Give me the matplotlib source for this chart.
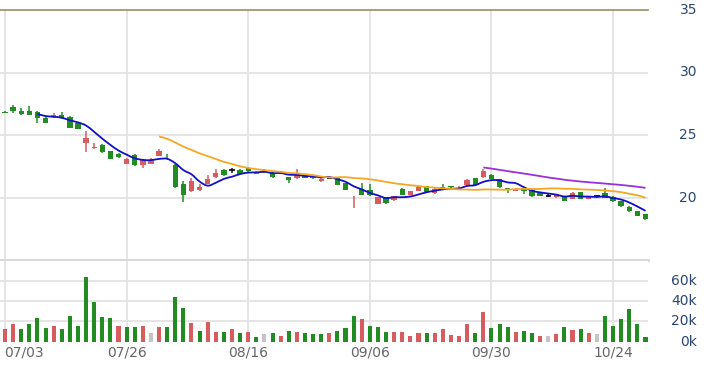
import numpy as np
import matplotlib
matplotlib.use("Agg")
import matplotlib.pyplot as plt
from matplotlib.path import Path
from matplotlib.patches import PathPatch
import matplotlib.transforms as mtransforms

# ---------------- data ----------------
opens = [26.88, 27.20, 26.95, 26.93, 26.85, 26.40, 26.50, 26.60, 26.45, 26.00,
         24.34, 24.00, 24.20, 23.73, 23.47, 22.70, 23.40, 22.60, 22.70, 23.33,
         23.20, 22.60, 21.10, 20.50, 20.58, 21.10, 21.64, 22.20, 22.17, 22.20,
         22.40, 21.90, 22.20, 22.00, 21.96, 21.60, 21.56, 21.83, 21.72, 21.30,
         21.60, 21.56, 21.17, 19.70, 20.70, 20.63, 19.52, 20.02, 19.79, 20.70,
         20.24, 20.56, 20.90, 20.37, 20.85, 20.90, 20.83, 20.98, 21.56, 21.64,
         21.83, 21.48, 20.77, 20.56, 20.70, 20.63, 20.37, 20.15, 20.05, 20.05,
         19.90, 20.42, 19.92, 20.10, 20.37, 20.05, 19.70, 19.26, 18.91, 18.65]
highs = [26.95, 27.38, 27.20, 27.30, 26.90, 26.45, 26.75, 26.85, 26.50, 26.05,
         25.30, 24.35, 24.25, 23.75, 23.60, 23.15, 23.45, 23.05, 23.20, 23.85,
         23.50, 22.65, 21.30, 21.55, 21.10, 21.80, 22.30, 22.25, 22.40, 22.30,
         22.45, 22.10, 22.25, 22.05, 22.15, 21.65, 22.25, 21.90, 21.78, 21.60,
         21.75, 21.60, 21.20, 20.10, 21.20, 21.10, 20.05, 20.05, 20.15, 20.75,
         20.55, 20.90, 20.95, 20.75, 21.05, 20.95, 20.95, 21.50, 21.60, 22.30,
         21.90, 21.50, 20.80, 20.75, 20.75, 20.65, 20.45, 20.25, 20.30, 20.10,
         20.45, 20.45, 20.15, 20.20, 20.80, 20.10, 19.75, 19.30, 18.95, 18.70]
lows = [26.80, 26.80, 26.60, 26.60, 26.00, 25.95, 26.40, 26.30, 25.55, 25.45,
        23.65, 23.85, 23.60, 23.05, 23.20, 22.65, 22.55, 22.40, 22.65, 23.30,
        23.05, 20.80, 19.63, 20.45, 20.50, 21.05, 21.60, 21.75, 22.00, 21.85,
        22.05, 21.85, 22.00, 21.60, 21.85, 21.20, 21.50, 21.55, 21.50, 21.25,
        21.50, 21.00, 20.60, 19.20, 20.20, 20.15, 19.50, 19.50, 19.75, 20.20,
        20.20, 20.50, 20.40, 20.30, 20.70, 20.75, 20.80, 20.95, 21.00, 21.60,
        21.45, 20.80, 20.35, 20.50, 20.30, 20.05, 20.10, 20.05, 20.00, 19.70,
        19.85, 19.85, 19.90, 19.95, 19.95, 19.65, 19.25, 18.85, 18.50, 18.20]
closes = [26.80, 26.90, 26.72, 26.64, 26.33, 26.00, 26.60, 26.35, 25.60, 25.50,
          24.74, 24.07, 23.63, 23.10, 23.25, 23.10, 22.60, 23.00, 23.00, 23.73,
          23.15, 20.85, 20.24, 21.30, 20.85, 21.50, 22.00, 21.80, 22.17, 21.90,
          22.10, 22.05, 22.05, 21.64, 21.96, 21.43, 21.96, 21.60, 21.55, 21.50,
          21.60, 21.03, 20.63, 19.75, 20.24, 20.20, 20.02, 19.55, 20.10, 20.24,
          20.50, 20.82, 20.45, 20.70, 20.78, 20.82, 20.88, 21.43, 21.03, 22.09,
          21.50, 20.82, 20.60, 20.70, 20.50, 20.10, 20.15, 20.15, 20.24, 19.76,
          20.37, 19.90, 20.10, 20.10, 19.98, 19.70, 19.30, 18.91, 18.52, 18.25]
prev_close_before_start = 26.70
volumes = [12.0, 16.9, 12.0, 16.9, 22.8, 13.0, 15.6, 12.0, 25.4, 15.6,
           63.8, 39.2, 23.8, 22.8, 15.6, 14.6, 14.6, 15.6, 8.1, 14.6,
           14.6, 44.1, 32.7, 17.9, 10.6, 19.5, 9.7, 9.7, 12.0, 8.7,
           9.7, 4.7, 7.1, 8.1, 5.4, 10.3, 9.7, 8.1, 7.1, 7.0,
           8.1, 10.6, 13.0, 25.1, 21.9, 15.6, 14.0, 9.7, 9.7, 9.7,
           5.4, 8.1, 8.1, 8.7, 12.0, 6.4, 5.4, 16.9, 8.1, 29.4,
           13.0, 16.9, 14.6, 9.7, 10.3, 8.1, 5.4, 5.4, 7.1, 14.0,
           11.3, 12.0, 8.1, 7.1, 25.4, 15.6, 21.9, 31.7, 16.9, 4.7]  # thousands
tick_labels = ["07/03", "07/26", "08/16", "09/06", "09/30", "10/24"]
tick_index = [0, 15, 30, 45, 60, 75]
ma_periods = [5, 20, 60]
price_ticks = [20, 25, 30, 35]
vol_ticks = [0, 20, 40, 60]

# ---------------- style ----------------
RED = "#d65c5f"
GREEN = "#228b22"
BLACK = "#111111"
GRAY_VOL = "#c4c4c4"
GRID = "#e3e3e3"
LABEL_BLUE = "#2a4670"
MA_COLORS = {5: "#1010c8", 20: "#f5a623", 60: "#9b30d9"}

o = np.array(opens); h = np.array(highs); l = np.array(lows); c = np.array(closes)
v = np.array(volumes) * 1000.0
n = len(c)
x = np.arange(n)

W, H = 705, 367
fig = plt.figure(figsize=(W / 100, H / 100), dpi=100)
px_left, px_right = 0, 648
axp = fig.add_axes([px_left / W, 1 - 260 / H, (px_right - px_left) / W, 250 / H])
axv = fig.add_axes([px_left / W, 1 - 341.5 / H, (px_right - px_left) / W, 80.5 / H])

xlim = (-0.617, 79.31)
for ax in (axp, axv):
    ax.set_xlim(*xlim)
    for s in ax.spines.values():
        s.set_visible(False)
    ax.tick_params(left=False, right=False, bottom=False, top=False,
                   labelleft=False, labelbottom=False)
    for ti in tick_index:
        ax.axvline(ti, color=GRID, lw=1.3, zorder=0)

# price panel
axp.set_ylim(15, 35)
for t in [20, 25, 30]:
    axp.axhline(t, color=GRID, lw=1.3, zorder=0)
axp.axhline(35, color="#9c9a70", lw=1.3, zorder=1, clip_on=False)
axp.axhline(15, color="#d9d9d9", lw=2.2, zorder=1, clip_on=False)

body_w = 0.66
for i in range(n):
    if c[i] > o[i]:
        col = RED
    elif c[i] < o[i]:
        col = GREEN
    else:
        col = BLACK
    axp.vlines(x[i], l[i], h[i], color=col, lw=1.1, zorder=3)
    if c[i] == o[i]:
        axp.hlines(c[i], x[i] - body_w / 2, x[i] + body_w / 2, color=col, lw=1.3, zorder=3)
    else:
        axp.bar(x[i], abs(c[i] - o[i]), bottom=min(o[i], c[i]), width=body_w,
                color=col, zorder=3, linewidth=0)


def smooth_path(xs, ys):
    pts = np.column_stack([xs, ys])
    verts = [tuple(pts[0])]
    codes = [Path.MOVETO]
    m = len(pts)
    for i in range(m - 1):
        p0 = pts[i - 1] if i > 0 else pts[i]
        p1 = pts[i]
        p2 = pts[i + 1]
        p3 = pts[i + 2] if i + 2 < m else pts[i + 1]
        c1 = p1 + (p2 - p0) / 6.0
        c2 = p2 - (p3 - p1) / 6.0
        verts += [tuple(c1), tuple(c2), tuple(p2)]
        codes += [Path.CURVE4] * 3
    return Path(verts, codes)


for p in ma_periods:
    ma = np.convolve(c, np.ones(p) / p, mode="valid")
    xs = x[p - 1:]
    patch = PathPatch(smooth_path(xs, ma), fill=False, edgecolor=MA_COLORS[p],
                      lw=1.3, zorder=4)
    axp.add_patch(patch)

# volume panel
axv.set_ylim(0, 79300)
for t in [20000, 40000, 60000]:
    axv.axhline(t, color=GRID, lw=1.3, zorder=0)
prev = np.concatenate([[prev_close_before_start], c[:-1]])
vcols = [RED if c[i] > prev[i] else (GREEN if c[i] < prev[i] else GRAY_VOL) for i in range(n)]
axv.bar(x, v, width=0.5, color=vcols, zorder=3, linewidth=0)

# right labels
trp = mtransforms.blended_transform_factory(fig.transFigure, axp.transData)
for t in price_ticks:
    fig.text(697 / W, t, str(t), transform=trp, ha="right", va="center",
             fontsize=10, color=LABEL_BLUE)
trv = mtransforms.blended_transform_factory(fig.transFigure, axv.transData)
for t in vol_ticks:
    fig.text(697 / W, t * 1000, f"{t}k", transform=trv, ha="right", va="center",
             fontsize=10, color=LABEL_BLUE)

# date labels
trd = mtransforms.blended_transform_factory(axv.transData, fig.transFigure)
for ti, lab in zip(tick_index, tick_labels):
    if ti == 0:
        fig.text(4 / W, 1 - 352 / H, lab, ha="left", va="center", fontsize=10, color="#666666")
    else:
        fig.text(ti, 1 - 352 / H, lab, transform=trd, ha="center", va="center",
                 fontsize=10, color="#666666")

fig.savefig("out.png", dpi=100)
